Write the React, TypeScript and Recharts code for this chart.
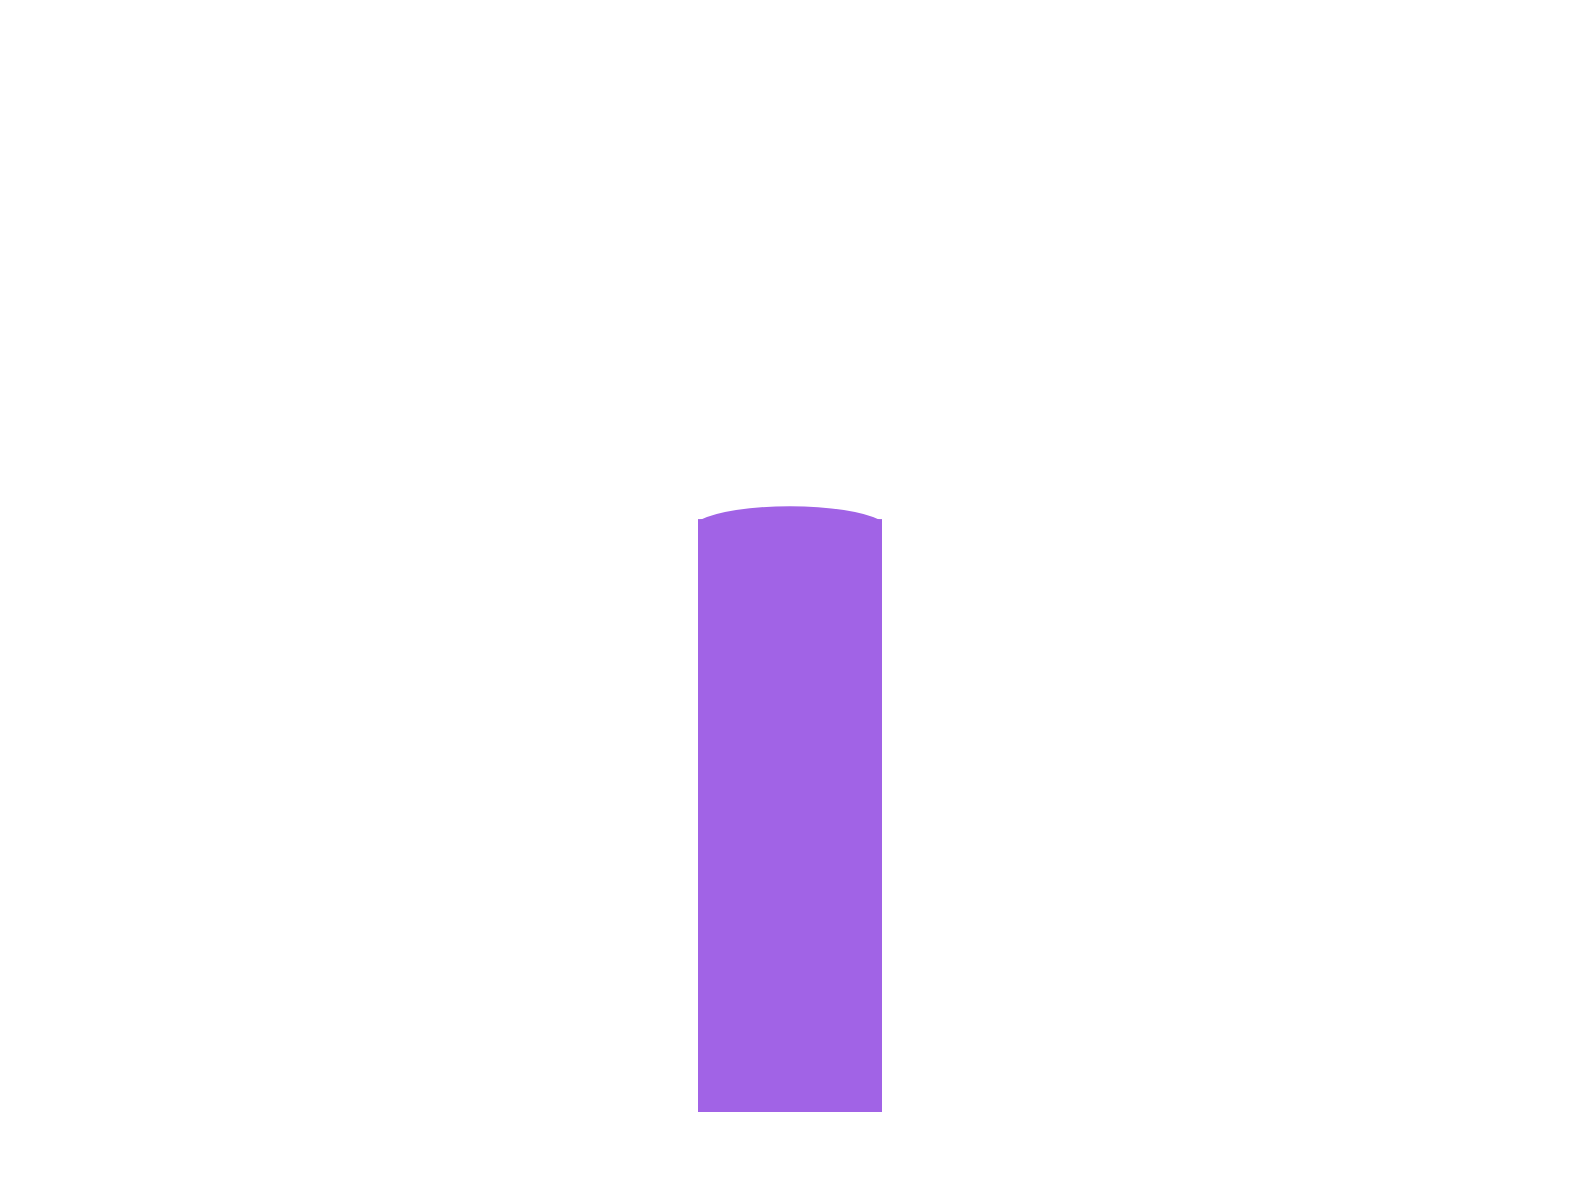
import { Bar, BarChart, XAxis, YAxis } from "recharts";

const categories = ["A"];
const values = [55];

const data = categories.map((name, i) => ({ name, value: values[i] }));

// flat rect with a shallow elliptical cap on top
const CylinderBar = (props: any) => {
  const { x, y, width, height, fill } = props;
  if (!height || height <= 0) return null;
  const rx = width / 2 + 6;
  const cap = `M${x + 2},${y + 1} A${rx},23 0 0 1 ${x + width - 2},${y + 1} Z`;
  return (
    <g>
      <rect x={x} y={y} width={width} height={height} fill={fill} />
      <path d={cap} fill={fill} />
    </g>
  );
};

export default function App() {
  return (
    <div style={{ position: "absolute", left: 0, top: 0, width: 1580, height: 1180, background: "#fff" }}>
      <BarChart
        width={1580}
        height={1180}
        data={data}
        margin={{ top: 34, right: 0, bottom: 68, left: 0 }}
      >
        <XAxis dataKey="name" hide />
        <YAxis hide domain={[0, 100]} />
        <Bar
          dataKey="value"
          fill="#a163e6"
          barSize={184}
          shape={<CylinderBar />}
          isAnimationActive={false}
        />
      </BarChart>
    </div>
  );
}
